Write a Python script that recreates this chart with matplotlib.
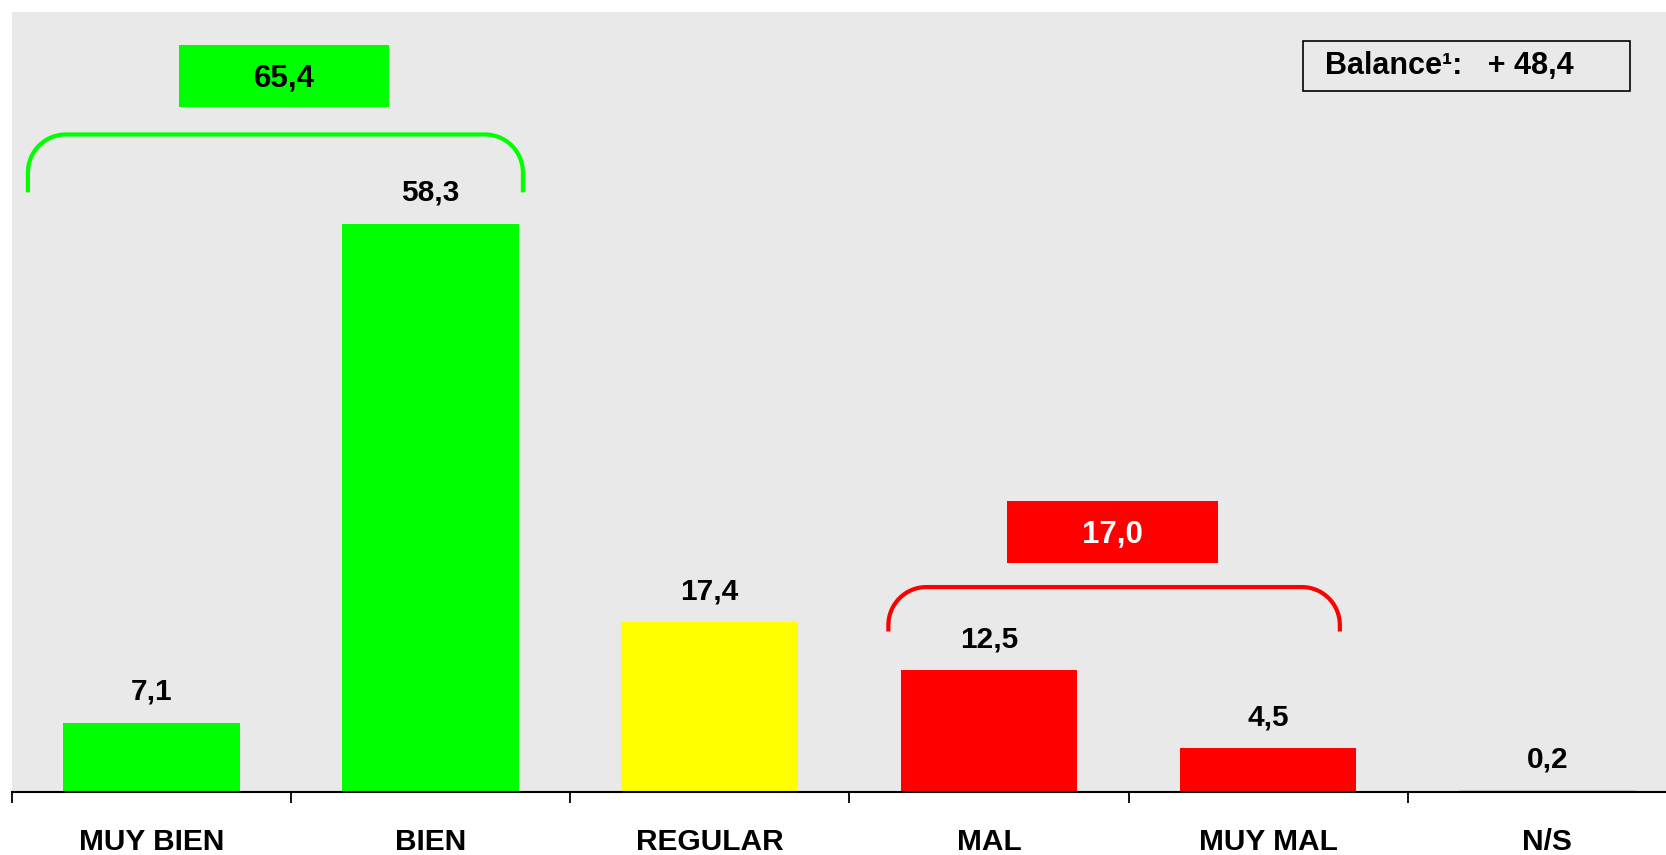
import numpy as np
import matplotlib
matplotlib.use("Agg")
import matplotlib.pyplot as plt
from matplotlib.patches import Rectangle

plt.rcParams['font.family'] = ['Liberation Sans', 'DejaVu Sans']
plt.rcParams['font.weight'] = 'bold'

# ---- data ----
categories = ["MUY BIEN", "BIEN", "REGULAR", "MAL", "MUY MAL", "N/S"]
values = [7.1, 58.3, 17.4, 12.5, 4.5, 0.2]
value_labels = ["7,1", "58,3", "17,4", "12,5", "4,5", "0,2"]
bar_colors = ["#00ff00", "#00ff00", "#ffff00", "#ff0000", "#ff0000", "#c8c8c8"]

group_values = ["65,4", "17,0"]
group_members = [(0, 1), (3, 4)]
group_colors = ["#00ff00", "#ff0000"]
group_text_colors = ["black", "white"]
balance_text = "Balance\u00b9:   + 48,4"

# ---- layout ----
W, H, DPI = 1666, 855, 100
fig = plt.figure(figsize=(W / DPI, H / DPI), dpi=DPI)
fig.patch.set_facecolor("white")

cat_w_px = 279.2
ax_left_px = 11.7
axis_y_px = 792
top_px = 12
ax = fig.add_axes([ax_left_px / W, (H - axis_y_px) / H,
                   6 * cat_w_px / W, (axis_y_px - top_px) / H])
ax.set_facecolor("#e9e9e9")
ax.set_xlim(-0.5, 5.5)
ax.set_ylim(0, 80)
for s in ["top", "right", "left"]:
    ax.spines[s].set_visible(False)
ax.spines["bottom"].set_linewidth(1.5)
ax.spines["bottom"].set_zorder(5)

x = np.arange(len(categories))
ax.bar(x, values, width=0.633, color=bar_colors, zorder=2)

for xi, v, lab in zip(x, values, value_labels):
    ax.annotate(lab, (xi, v), xytext=(0, 16.5), textcoords="offset points",
                ha="center", va="baseline", fontsize=21.5, fontweight="bold",
                color="black", zorder=6)

ax.set_yticks([])
ax.set_xticks(x)
ax.set_xticklabels(categories, fontsize=21.5, fontweight="bold")
ax.tick_params(axis="x", which="major", length=0, pad=26)
ax.set_xticks(np.arange(-0.5, 6.0, 1.0), minor=True)
ax.tick_params(axis="x", which="minor", length=8, width=1.3, color="black")

# brackets and group boxes
px_x = 1.0 / cat_w_px
px_y = 80.0 / (axis_y_px - top_px)
r = 38
bracket_extent = [(-0.442, 1.331, 67.44, 61.5), (2.640, 4.257, 21.02, 16.46)]
box_extent = [(0.100, 0.851, 70.28, 76.60), (3.065, 3.819, 23.45, 29.89)]

def bracket(x0, x1, ytop, yend, color):
    rx, ry = r * px_x, r * px_y
    t = np.linspace(np.pi, np.pi / 2, 20)
    left_arc = np.column_stack([x0 + rx + rx * np.cos(t), ytop - ry + ry * np.sin(t)])
    t2 = np.linspace(np.pi / 2, 0, 20)
    right_arc = np.column_stack([x1 - rx + rx * np.cos(t2), ytop - ry + ry * np.sin(t2)])
    pts = np.vstack([[x0, yend], left_arc, right_arc, [x1, yend]])
    ax.plot(pts[:, 0], pts[:, 1], color=color, lw=3.0, solid_capstyle="butt",
            zorder=4, clip_on=False)

for (m0, m1), gv, gc, tc, be, bx in zip(group_members, group_values, group_colors,
                                         group_text_colors, bracket_extent, box_extent):
    bracket(*be, gc)
    x0, x1, y0, y1 = bx
    ax.add_patch(Rectangle((x0, y0), x1 - x0, y1 - y0, facecolor=gc,
                           edgecolor="none", zorder=4))
    ax.text((x0 + x1) / 2, (y0 + y1) / 2, gv, ha="center", va="center_baseline",
            fontsize=22.5, fontweight="bold", color=tc, zorder=6)

# balance box
bx0, bx1, by_top, by_bot = 1303.3, 1630, 41, 90.7
fig.patches.append(Rectangle((bx0 / W, (H - by_bot) / H), (bx1 - bx0) / W,
                             (by_bot - by_top) / H, transform=fig.transFigure,
                             facecolor="none", edgecolor="black", lw=1.2, zorder=10))
fig.text(1325 / W, (H - 74.3) / H, balance_text, ha="left", va="baseline",
         fontsize=22, fontweight="bold", color="black", zorder=11)

fig.savefig("out.png", dpi=DPI)
